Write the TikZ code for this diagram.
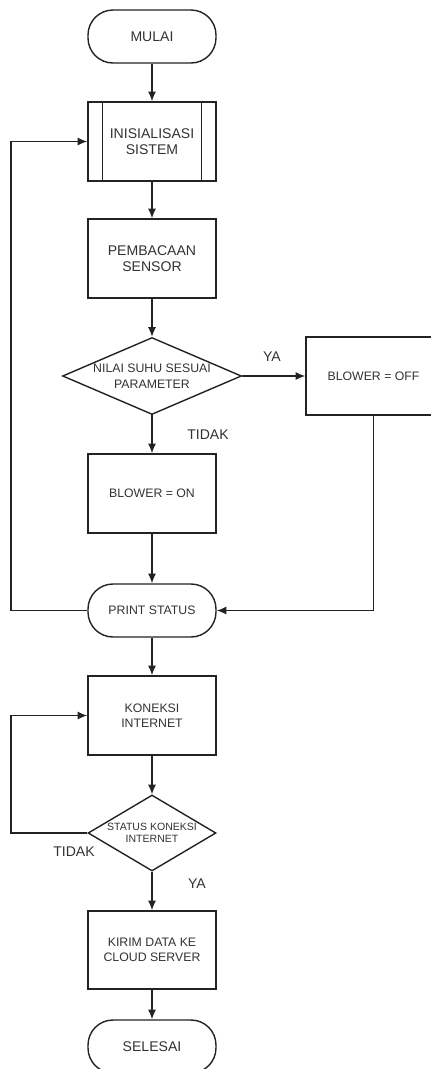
\documentclass[tikz,border=0pt]{standalone}
\usepackage{fontspec}
\setmainfont{Liberation Sans}
\usepackage{tikz}
\usetikzlibrary{shapes.geometric, arrows.meta}

\begin{document}
\begin{tikzpicture}[x=0.02cm, y=-0.02cm, >={Latex[length=5.5pt, width=4.6pt]},
    garis/.style={draw=abu, line width=0.8pt},
    besar/.style={font=\fontsize{8}{9.3}\selectfont},
    sedang/.style={font=\fontsize{7}{8.6}\selectfont},
    kecil/.style={font=\fontsize{6}{6.8}\selectfont},
    proses/.style={garis, rectangle, minimum width=2.56cm, minimum height=1.58cm,
        align=center, text=teks, sedang},
    terminal/.style={garis, rectangle, rounded corners=0.5cm, minimum width=2.56cm,
        minimum height=1.06cm, align=center, text=teks, sedang},
    keputusan/.style={garis, diamond, inner sep=0pt, align=center, text=teks, sedang},
    ket/.style={text=teks, besar, inner sep=0pt}]
    % Warna garis dan teks
    \definecolor{abu}{RGB}{35, 35, 35}
    \definecolor{teks}{RGB}{50, 50, 50}

    % Batas gambar (kotak BLOWER = OFF dan SELESAI terpotong di tepi)
    \clip (0,0) rectangle (431,1069);

    % 1. Simbol-simbol flowchart
    \node[terminal, besar] (mulai) at (152,36.5) {MULAI};
    \node[proses, besar] (init) at (152,141.5) {INISIALISASI\\SISTEM};
    \draw[garis] ([xshift=0.3cm]init.north west) -- ([xshift=0.3cm]init.south west)
        ([xshift=-0.3cm]init.north east) -- ([xshift=-0.3cm]init.south east);
    \node[proses, besar] (baca) at (152,258.5) {PEMBACAAN\\SENSOR};
    \node[keputusan, font=\fontsize{7}{9}\selectfont, aspect=2.32,
        minimum width=3.58cm, minimum height=1.54cm] (cek) at (152,376)
        {NILAI SUHU SESUAI\\PARAMETER};
    \node[proses, minimum width=2.7cm, minimum height=1.56cm] (off) at (373.5,376) {BLOWER = OFF};
    \node[proses] (on) at (152,493.5) {BLOWER = ON};
    \node[terminal] (print) at (152,610.5) {PRINT STATUS};
    \node[proses] (koneksi) at (152,715.5) {KONEKSI\\INTERNET};
    \node[keputusan, kecil, aspect=1.68, minimum width=2.56cm, minimum height=1.52cm]
        (cek2) at (152,833) {STATUS KONEKSI\\INTERNET};
    \node[proses, minimum height=1.56cm] (kirim) at (152,950) {KIRIM DATA KE\\CLOUD SERVER};
    \node[terminal, besar] (selesai) at (152,1046.5) {SELESAI};

    % 2. Garis alir utama
    \draw[garis, ->] (mulai) -- (init);
    \draw[garis, ->] (init) -- (baca);
    \draw[garis, ->] (baca) -- (cek);
    \draw[garis, ->] (cek) -- (off);
    \draw[garis, ->] (cek) -- (on);
    \draw[garis, ->] (on) -- (print);
    \draw[garis, ->] (off) |- (print);
    \draw[garis, ->] (print) -- (koneksi);
    \draw[garis, ->] (koneksi) -- (cek2);
    \draw[garis, ->] (cek2) -- (kirim);
    \draw[garis, ->] (kirim) -- (selesai);

    % 3. Garis kembali (loop)
    \coordinate (kiri) at (11,0);
    \draw[garis, ->] (print.west) -- (print.west -| kiri) |- (init.west);
    \draw[garis, ->] (cek2.west) -- (cek2.west -| kiri) |- (koneksi.west);

    % 4. Keterangan YA / TIDAK
    \node[ket] (ya1) at (272,357) {YA};
    \node[ket] (tidak1) at (208,435) {TIDAK};
    \node[ket] (tidak2) at (74,852) {TIDAK};
    \node[ket] (ya2) at (197,884) {YA};
\end{tikzpicture}
\end{document}
